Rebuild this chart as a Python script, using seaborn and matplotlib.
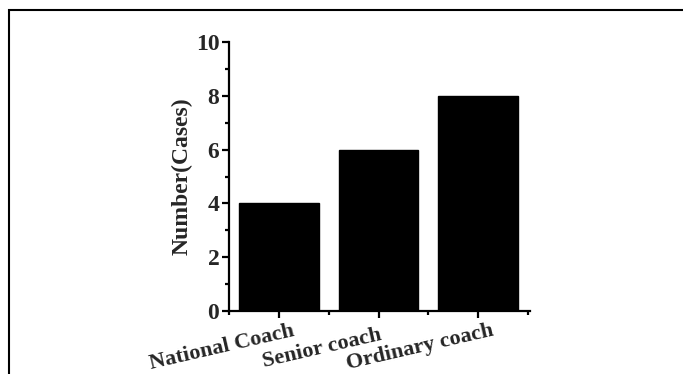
import matplotlib
matplotlib.use("Agg")
import matplotlib.pyplot as plt
import matplotlib.transforms as mtrans
from matplotlib.patches import Rectangle
from matplotlib.ticker import MultipleLocator, FixedLocator
import seaborn as sns
import pandas as pd

sns.set_theme(style="ticks")
plt.rcParams['font.family'] = ['Liberation Serif', 'DejaVu Serif']
plt.rcParams['font.weight'] = 'bold'

categories = ['National Coach', 'Senior coach', 'Ordinary coach']
cases = [4, 6, 8]

df = pd.DataFrame({'level': categories, 'cases': cases})

fig = plt.figure(figsize=(6.83, 3.74), dpi=100)
ax = fig.add_axes([229/683, 1 - 311/374, 301/683, 269/374])

sns.barplot(data=df, x='level', y='cases', color='black', width=0.8,
            saturation=1, ax=ax)
for p in ax.patches:
    p.set_edgecolor('black')

ax.set_xlim(-0.5, 2.52)
ax.set_ylim(0, 10)
ax.yaxis.set_major_locator(MultipleLocator(2))
ax.yaxis.set_minor_locator(MultipleLocator(1))
ax.xaxis.set_minor_locator(FixedLocator([-0.5, 0.5, 1.5, 2.5]))

sns.despine(ax=ax)
for s in ['left', 'bottom']:
    ax.spines[s].set_linewidth(1.6)
    ax.spines[s].set_color('black')
ax.tick_params(axis='both', which='major', direction='out', length=5, width=1.6,
               color='black', labelsize=17, pad=2)
ax.tick_params(axis='both', which='minor', direction='out', length=3, width=1.6,
               color='black')

ax.set_xlabel('')
ax.set_ylabel('Number(Cases)', fontsize=17, fontweight='bold', labelpad=2)
for t in ax.get_yticklabels():
    t.set_fontweight('bold')

# per-label nudges (px) to match the original placement
nudges = [(17, 0), (5, -4), (17, 0)]
for t, (dx, dy) in zip(ax.get_xticklabels(), nudges):
    t.set_rotation(13)
    t.set_ha('right')
    t.set_va('top')
    t.set_fontsize(16)
    t.set_fontweight('bold')
    off = mtrans.ScaledTranslation(dx/100, dy/100, fig.dpi_scale_trans)
    t.set_transform(t.get_transform() + off)

# outer frame
fig.patches.append(Rectangle((9/683, -0.1), 1.2, 1 - 10/374 + 0.1,
                             transform=fig.transFigure, fill=False,
                             edgecolor='black', linewidth=1.5))

fig.savefig('out.png', dpi=100)
